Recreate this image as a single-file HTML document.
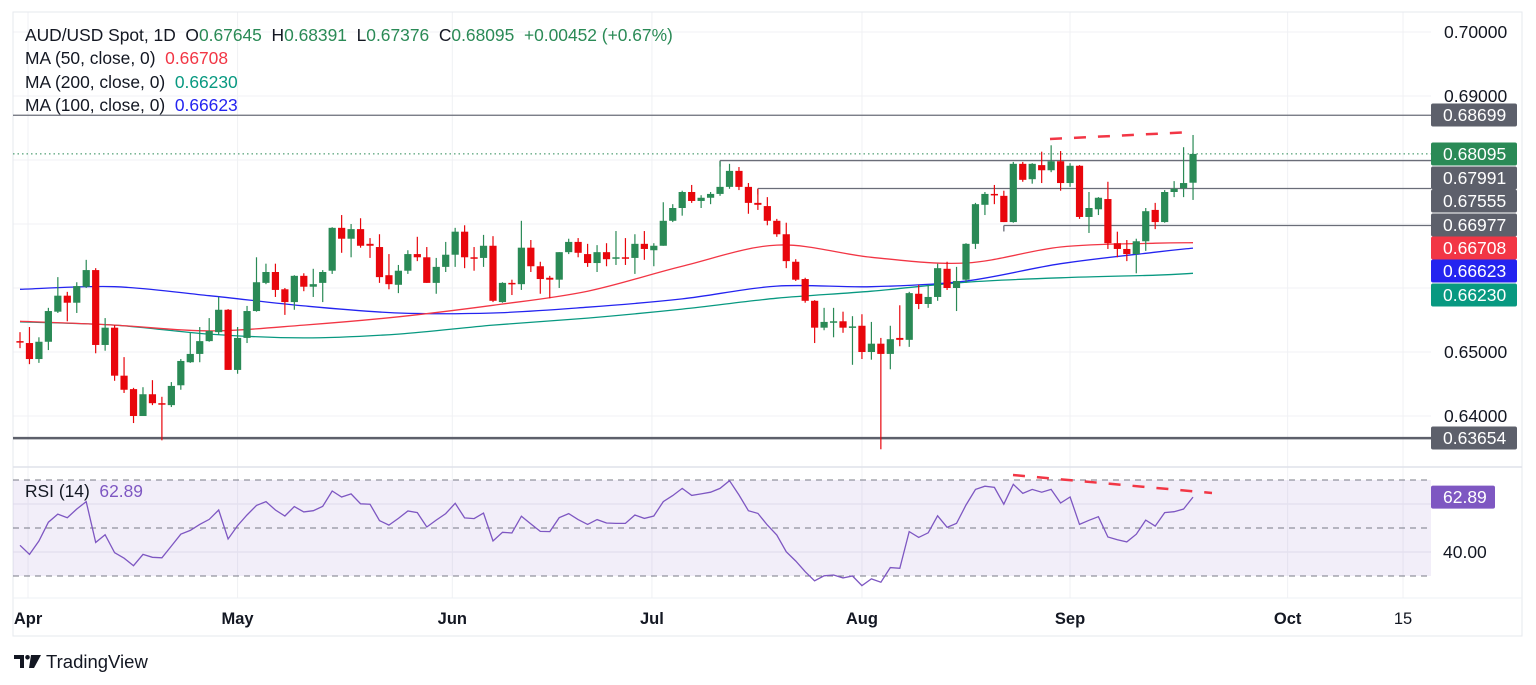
<!DOCTYPE html>
<html><head><meta charset="utf-8"><style>
html,body{margin:0;padding:0;background:#fff;width:1536px;height:685px;overflow:hidden;font-family:"Liberation Sans",sans-serif;}
svg text{font-family:"Liberation Sans",sans-serif;}
</style></head><body>
<svg id="c" width="1536" height="685" viewBox="0 0 1536 685" xmlns="http://www.w3.org/2000/svg"></svg>
<script>
// ---- data ----
const opens=[0.6517,0.6514,0.6489,0.6516,0.6563,0.6588,0.6577,0.6602,0.6628,0.6511,0.6538,0.6463,0.6442,0.6400,0.6434,0.6420,0.6417,0.6448,0.6484,0.6497,0.6517,0.6531,0.6566,0.6472,0.6522,0.6564,0.6608,0.6625,0.6598,0.6578,0.6619,0.6602,0.6608,0.6627,0.6694,0.6677,0.6692,0.6669,0.6664,0.6620,0.6605,0.6627,0.6653,0.6648,0.6608,0.6633,0.6652,0.6688,0.6648,0.6647,0.6666,0.6578,0.6608,0.6606,0.6663,0.6634,0.6616,0.6613,0.6656,0.6672,0.6653,0.6639,0.6656,0.6646,0.6648,0.6647,0.6669,0.6659,0.6666,0.6705,0.6725,0.6750,0.6736,0.6741,0.6747,0.6758,0.6783,0.6758,0.6733,0.6728,0.6705,0.6684,0.6641,0.6614,0.6580,0.6538,0.6546,0.6548,0.6538,0.6541,0.6500,0.6513,0.6497,0.6522,0.6519,0.6591,0.6575,0.6586,0.6630,0.6600,0.6613,0.6669,0.6730,0.6747,0.6744,0.6703,0.6794,0.6770,0.6792,0.6784,0.6798,0.6764,0.6791,0.6711,0.6723,0.6739,0.6670,0.6661,0.6653,0.6673,0.6722,0.6703,0.6750,0.6756,0.67645];
const highs=[0.6531,0.6539,0.6523,0.6569,0.6617,0.6594,0.6609,0.6644,0.6631,0.6553,0.6542,0.6492,0.6444,0.6445,0.6456,0.6430,0.6453,0.6489,0.6530,0.6539,0.6553,0.6586,0.6567,0.6539,0.6572,0.6648,0.6638,0.6638,0.6600,0.6620,0.6623,0.6630,0.6628,0.6695,0.6714,0.6700,0.6709,0.6678,0.6684,0.6653,0.6636,0.6659,0.6680,0.6664,0.6647,0.6672,0.6694,0.6698,0.6664,0.6683,0.6681,0.6609,0.6613,0.6705,0.6675,0.6641,0.6619,0.6656,0.6677,0.6678,0.6669,0.6667,0.6670,0.6689,0.6678,0.6684,0.6689,0.6670,0.6734,0.6731,0.6752,0.6761,0.6745,0.6750,0.6798,0.6794,0.6789,0.6764,0.6755,0.6742,0.6708,0.6702,0.6645,0.6616,0.6581,0.6569,0.6569,0.6563,0.6556,0.6559,0.6547,0.6522,0.6541,0.6573,0.6594,0.6605,0.6605,0.6638,0.6641,0.6633,0.6670,0.6733,0.6750,0.6761,0.6752,0.6797,0.6797,0.6795,0.6813,0.6823,0.6814,0.6795,0.6792,0.6750,0.6742,0.6766,0.6688,0.6675,0.6677,0.6725,0.6733,0.6753,0.6767,0.6820,0.68391];
const lows=[0.6506,0.6481,0.6483,0.6503,0.6561,0.6548,0.6561,0.6600,0.6498,0.6502,0.6455,0.6436,0.6389,0.6400,0.6417,0.6362,0.6414,0.6441,0.6483,0.6484,0.6516,0.6527,0.6472,0.6466,0.6514,0.6563,0.6606,0.6586,0.6558,0.6566,0.6595,0.6586,0.6578,0.6622,0.6655,0.6648,0.6663,0.6647,0.6608,0.6598,0.6592,0.6622,0.6642,0.6608,0.6591,0.6625,0.6633,0.6631,0.6627,0.6633,0.6578,0.6577,0.6589,0.6597,0.6625,0.6591,0.6584,0.6600,0.6653,0.6648,0.6633,0.6625,0.6634,0.6636,0.6636,0.6622,0.6644,0.6634,0.6666,0.6703,0.6713,0.6733,0.6725,0.6731,0.6744,0.6755,0.6753,0.6716,0.6722,0.6698,0.6680,0.6631,0.6611,0.6577,0.6514,0.6534,0.6523,0.6530,0.6480,0.6489,0.6488,0.6348,0.6473,0.6509,0.6508,0.6567,0.6569,0.6580,0.6597,0.6564,0.6608,0.6661,0.6714,0.6731,0.6703,0.6702,0.6766,0.6763,0.6764,0.6781,0.6752,0.6758,0.6708,0.6686,0.6714,0.6661,0.6648,0.6642,0.6623,0.6658,0.6692,0.6702,0.6742,0.6742,0.67376];
const closes=[0.6516,0.6489,0.6516,0.6564,0.6588,0.6577,0.6603,0.6628,0.6511,0.6538,0.6463,0.6441,0.6400,0.6434,0.6420,0.6419,0.6447,0.6486,0.6497,0.6517,0.6533,0.6566,0.6472,0.6522,0.6564,0.6609,0.6625,0.6597,0.6578,0.6619,0.6602,0.6606,0.6625,0.6694,0.6677,0.6692,0.6666,0.6666,0.6617,0.6606,0.6627,0.6653,0.6648,0.6608,0.6633,0.6652,0.6688,0.6648,0.6646,0.6666,0.6580,0.6608,0.6606,0.6663,0.6634,0.6614,0.6613,0.6656,0.6672,0.6655,0.6639,0.6656,0.6645,0.6648,0.6647,0.6669,0.6661,0.6666,0.6705,0.6725,0.6750,0.6736,0.6741,0.6747,0.6758,0.6783,0.6758,0.6733,0.6730,0.6705,0.6684,0.6642,0.6613,0.6580,0.6538,0.6547,0.6548,0.6538,0.6540,0.6500,0.6513,0.6497,0.6520,0.6519,0.6592,0.6575,0.6586,0.6631,0.6600,0.6611,0.6669,0.6731,0.6747,0.6745,0.6703,0.6794,0.6769,0.6794,0.6784,0.6798,0.6764,0.6791,0.6711,0.6725,0.6741,0.6670,0.6661,0.6653,0.6673,0.6720,0.6703,0.6750,0.6755,0.6764,0.68095];
const maIdx=[0,10,20,30,40,50,60,70,80,90,100,110,120,124];
const ma100=[0.6598,0.6602,0.6588,0.6572,0.6561,0.6561,0.6570,0.6583,0.6603,0.6602,0.6611,0.6638,0.6656,0.66623];
const ma50=[0.6548,0.6542,0.6533,0.6542,0.6555,0.6573,0.6595,0.6634,0.6667,0.6648,0.6639,0.6664,0.6670,0.66708];
const ma200=[0.6547,0.6542,0.6528,0.6522,0.6528,0.6542,0.6553,0.6567,0.6584,0.6595,0.6609,0.6616,0.6620,0.66230];
const rsi=[42.8,39.0,44.6,52.4,55.8,54.3,57.9,61.0,44.0,47.2,39.7,37.4,34.3,39.0,37.8,37.6,42.5,47.4,49.0,51.5,53.6,57.5,45.4,51.0,55.4,59.4,61.0,57.5,55.0,58.9,56.7,57.2,59.0,65.4,62.9,64.2,60.1,59.9,53.1,51.2,54.0,57.1,56.4,50.4,53.3,56.0,60.3,54.2,53.9,56.2,44.6,48.2,47.9,54.9,51.7,48.6,48.5,54.3,56.0,53.5,51.5,53.5,52.1,51.9,51.9,55.4,54.0,55.0,61.0,63.5,66.5,63.6,64.2,64.9,66.5,69.7,63.75,57.2,56.1,51.25,47.1,40.1,36.25,31.8,28.0,30.1,30.4,29.2,30.0,26.0,28.8,27.4,33.5,33.2,48.5,46.1,48.0,55.1,50.3,51.9,59.6,66.1,67.4,66.9,59.9,68.2,64.4,66.1,64.9,66.1,60.4,62.9,51.5,53.2,54.7,46.25,45.1,44.2,47.4,53.3,50.8,56.4,56.8,57.9,62.89];
const priceTicks=[0.70,0.69,0.65,0.64];
const gridPrices=[0.70,0.69,0.68,0.67,0.66,0.65,0.64];
const monthLabels=["Apr","May","Jun","Jul","Aug","Sep","Oct","15"];
const monthIdx=[0.85,23,45.7,66.8,89,111,134,146.2];
const levels=[0.68699,0.67991,0.67555,0.66977,0.63654];
const levelStart=[-2,74,78,104,-2];
// ---- scales ----
const X0=20,STEP=9.46,PL=13,PR=1431;
const xS=i=>X0+i*STEP;
const yP=p=>32+(0.70-p)*6400;
const yR=v=>480+(70-v)*2.4;
const svg=document.getElementById('c');
const NS='http://www.w3.org/2000/svg';
function mk(tag,at,parent){const e=document.createElementNS(NS,tag);for(const k in at)e.setAttribute(k,at[k]);(parent||svg).appendChild(e);return e;}
function txt(s,at,parent){const e=mk('text',at,parent);e.textContent=s;return e;}
// frames / grid
let g=mk('g',{});


gridPrices.forEach(p=>mk('line',{x1:PL,x2:PR,y1:yP(p),y2:yP(p),stroke:'#f0f1f4','stroke-width':1},g));
[504,552].forEach(y=>mk('line',{x1:PL,x2:PR,y1:y,y2:y,stroke:'#e9e9f0','stroke-width':1},g));
monthIdx.forEach(i=>mk('line',{x1:xS(i),x2:xS(i),y1:12,y2:598,stroke:'#f0f1f4','stroke-width':1},g));
mk('rect',{x:PL,y:12,width:1509,height:624,fill:'none',stroke:'#e6e8ee','stroke-width':1});
mk('line',{x1:PL,x2:1522,y1:467,y2:467,stroke:'#dfe2ea','stroke-width':1.5});
mk('line',{x1:PL,x2:1522,y1:598,y2:598,stroke:'#eef0f4','stroke-width':1});
// RSI band
let band=mk('rect',{x:PL,y:yR(70),width:PR-PL,height:yR(30)-yR(70),fill:'#7e57c2','fill-opacity':0.1});


[70,50,30].forEach(v=>mk('line',{x1:PL,x2:PR,y1:yR(v),y2:yR(v),stroke:'#787b86','stroke-width':1,'stroke-dasharray':'6 5'}));
// level lines
levels.forEach((p,k)=>{const l=mk('line',{x1:k===0||k===4?PL:xS(levelStart[k]),x2:PR,y1:yP(p),y2:yP(p),stroke:k===4?'#5d606b':'#6a6d78','stroke-width':k===4?2.5:1.3});

});
[[74,0.67991],[78,0.67555],[104,0.66977]].forEach(a=>mk('line',{x1:xS(a[0]),x2:xS(a[0]),y1:yP(a[1]),y2:yP(a[1])+6,stroke:'#6a6d78','stroke-width':1.3}));
mk('line',{x1:PL,x2:PR,y1:yP(0.68095),y2:yP(0.68095),stroke:'#2a8a56','stroke-width':1,'stroke-dasharray':'1.5 3'});
// MA lines (smooth)
function maPath(arr,col,name){const pts=arr.map((p,k)=>[xS(maIdx[k]),yP(p)]);
let d='M'+pts[0][0].toFixed(1)+' '+pts[0][1].toFixed(1);
for(let k=0;k<pts.length-1;k++){const p0=pts[Math.max(0,k-1)],p1=pts[k],p2=pts[k+1],p3=pts[Math.min(pts.length-1,k+2)];
const c1=[p1[0]+(p2[0]-p0[0])/6,p1[1]+(p2[1]-p0[1])/6],c2=[p2[0]-(p3[0]-p1[0])/6,p2[1]-(p3[1]-p1[1])/6];
d+='C'+c1[0].toFixed(1)+' '+c1[1].toFixed(1)+' '+c2[0].toFixed(1)+' '+c2[1].toFixed(1)+' '+p2[0].toFixed(1)+' '+p2[1].toFixed(1);}
const e=mk('path',{d:d,fill:'none',stroke:col,'stroke-width':1.3,'stroke-linejoin':'round'});

}
maPath(ma200,'#089981','ma-200-line');
maPath(ma100,'#2424f0','ma-100-line');
maPath(ma50,'#f23645','ma-50-line');
// candles
const cg=mk('g',{});


closes.forEach((c,i)=>{const o=opens[i],up=c>=o,col=up?'#2a8a56':'#e8060c',x=xS(i);
mk('line',{x1:x,x2:x,y1:yP(highs[i]),y2:yP(lows[i]),stroke:col,'stroke-width':1.2},cg);
const top=yP(Math.max(o,c)),h=Math.max(1.5,yP(Math.min(o,c))-top);
const r=mk('rect',{x:x-3.6,y:top,width:7.2,height:h,fill:col},cg);

});
// trendlines
let t1=mk('line',{x1:1050,y1:139,x2:1193,y2:132,stroke:'#f23645','stroke-width':2.5,'stroke-dasharray':'12 12'});


// RSI line
let d='';rsi.forEach((v,i)=>{d+=(i?'L':'M')+xS(i).toFixed(1)+' '+yR(v).toFixed(1);});
let rl=mk('path',{d:d,fill:'none',stroke:'#7e57c2','stroke-width':1.3});


let t2=mk('line',{x1:1013,y1:475,x2:1212,y2:493,stroke:'#f23645','stroke-width':2.5,'stroke-dasharray':'12 12'});


// price axis ticks
priceTicks.forEach(p=>{const t=txt(p.toFixed(5),{x:1444,y:yP(p)+6,'font-size':17.5,fill:'#131722'});

});
let rt=txt('40.00',{x:1443,y:yR(40)+6,'font-size':17.5,fill:'#131722'});


// price label boxes
const boxes=[[0.68699,'#5d606b'],[0.68095,'#2a8a56'],[0.67991,'#5d606b'],[0.67555,'#5d606b'],[0.66977,'#5d606b'],[0.66708,'#f23645'],[0.66623,'#2424f0'],[0.66230,'#089981'],[0.63654,'#5d606b']];
const boxY=[115,154,178,201,225,248,271,295,438];
boxes.forEach((b,k)=>{const y=boxY[k];const r=mk('rect',{x:1431,y:y-11.5,width:86,height:23,rx:2,fill:b[1]});


txt(b[0].toFixed(5),{x:1443,y:y+6,'font-size':17.5,fill:'#fff'});});
let rb=mk('rect',{x:1431,y:yR(62.89)-11.5,width:64,height:23,rx:2,fill:'#7e57c2'});


txt('62.89',{x:1443,y:yR(62.89)+6,'font-size':17.5,fill:'#fff'});
// time axis
monthLabels.forEach((m,k)=>{const t=txt(m,{x:xS(monthIdx[k]),y:624,'font-size':16.5,'font-weight':m==='15'?'normal':'bold',fill:'#131722','text-anchor':'middle'});

});
// legend
const lg=mk('g',{});


const l1=txt('',{x:25,y:41,'font-size':17.4,fill:'#131722'},lg);
[['AUD/USD Spot, 1D  O','#131722'],['0.67645','#2a8a56'],['  H','#131722'],['0.68391','#2a8a56'],['  L','#131722'],['0.67376','#2a8a56'],['  C','#131722'],['0.68095','#2a8a56'],['  +0.00452 (+0.67%)','#2a8a56']].forEach(s=>{const ts=mk('tspan',{fill:s[1]},l1);ts.textContent=s[0];});
l1.style.whiteSpace='pre';
[['MA (50, close, 0)','0.66708','#f23645',64],['MA (200, close, 0)','0.66230','#089981',88],['MA (100, close, 0)','0.66623','#2424f0',111]].forEach(a=>{const t=txt('',{x:25,y:a[3],'font-size':17.4,fill:'#131722'},lg);t.style.whiteSpace='pre';
const s1=mk('tspan',{},t);s1.textContent=a[0]+'  ';const s2=mk('tspan',{fill:a[2]},t);s2.textContent=a[1];});
const rl2=txt('',{x:25,y:497,'font-size':17.4,fill:'#131722'},lg);rl2.style.whiteSpace='pre';
const r1=mk('tspan',{},rl2);r1.textContent='RSI (14)  ';const r2=mk('tspan',{fill:'#7e57c2'},rl2);r2.textContent='62.89';
// logo
const lo=mk('g',{});


mk('path',{d:'M14 655h10v13h-4v-9h-6z M31 655h10l-7 13h-5z',fill:'#131722'},lo);
mk('circle',{cx:27.5,cy:657.3,r:2.3,fill:'#131722'},lo);
txt('TradingView',{x:46,y:668,'font-size':18.5,fill:'#131722'},lo);
</script>
</body></html>
